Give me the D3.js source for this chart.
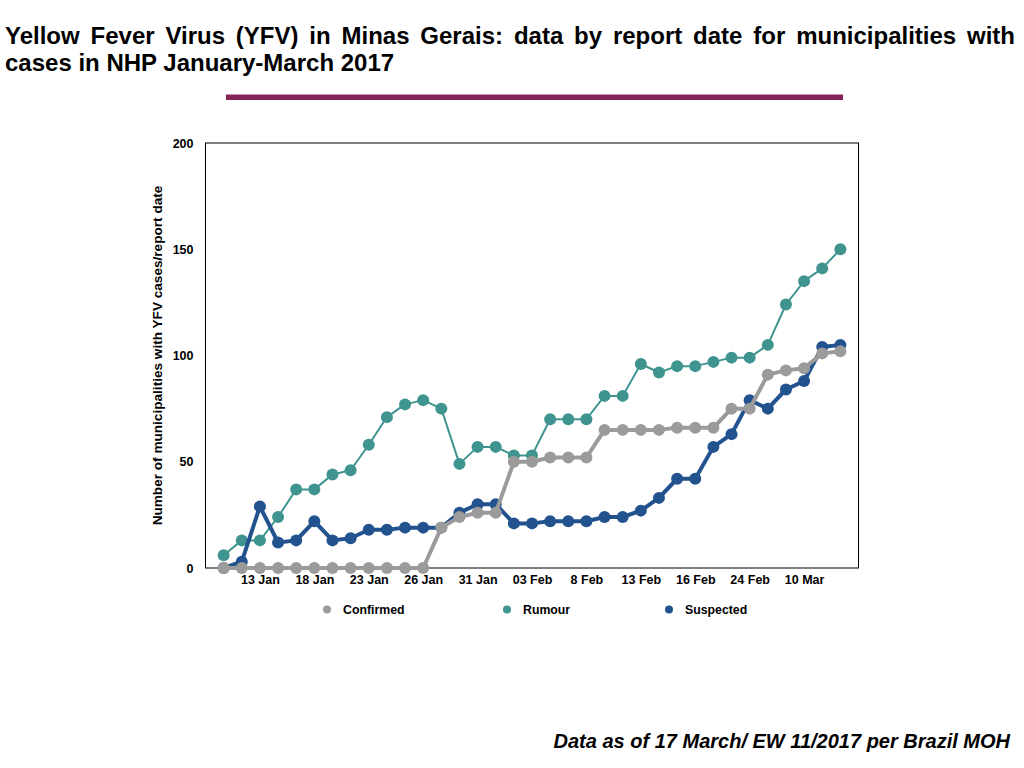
<!DOCTYPE html>
<html>
<head>
<meta charset="utf-8">
<script src="https://cdn.jsdelivr.net/npm/d3@7"></script>
<style>
  html, body { margin: 0; padding: 0; background: #fff; }
  body { width: 1024px; height: 768px; overflow: hidden; position: relative; font-family: "Liberation Sans", Arial, sans-serif; }
  .tl { position: absolute; left: 5px; width: 1010px; font-weight: bold; font-size: 24px; line-height: 28px; white-space: nowrap; color: #000; }
  #t1 { top: 22px; text-align: justify; text-align-last: justify; }
  #t2 { top: 49px; text-align: left; }
  svg { position: absolute; left: 0; top: 0; }
</style>
</head>
<body>
<svg id="chart" width="1024" height="768"></svg>
<div class="tl" id="t1">Yellow Fever Virus (YFV) in Minas Gerais: data by report date for municipalities with</div>
<div class="tl" id="t2">cases in NHP January-March 2017</div>
<script>
// Report-date categories (index) and the tick labels shown on the axis
const categories = d3.range(35);
const tickLabels = {2: "13 Jan", 5: "18 Jan", 8: "23 Jan", 11: "26 Jan", 14: "31 Jan", 17: "03 Feb", 20: "8 Feb", 23: "13 Feb", 26: "16 Feb", 29: "24 Feb", 32: "10 Mar"};
const yTicks = [0, 50, 100, 150, 200];

const confirmed = [0,0,0,0,0,0,0,0,0,0,0,0,19,24,26,26,50,50,52,52,52,65,65,65,65,66,66,66,75,75,91,93,94,101,102];
const rumour    = [6,13,13,24,37,37,44,46,58,71,77,79,75,49,57,57,53,53,70,70,70,81,81,96,92,95,95,97,99,99,105,124,135,141,150];
const suspected = [0,3,29,12,13,22,13,14,18,18,19,19,19,26,30,30,21,21,22,22,22,24,24,27,33,42,42,57,63,79,75,84,88,104,105];

const seriesNames = ["Confirmed", "Rumour", "Suspected"];
const seriesColors = ["#9b9b9b", "#3f9490", "#22538e"];

const series = [
  {name: seriesNames[0], values: confirmed, color: seriesColors[0], width: 4},
  {name: seriesNames[1], values: rumour, color: seriesColors[1], width: 2},
  {name: seriesNames[2], values: suspected, color: seriesColors[2], width: 4}
];

const FONT = "Liberation Sans, Arial, sans-serif";
const svg = d3.select("#chart");

// decorative rule under title
svg.append("rect").attr("x", 226).attr("y", 94.5).attr("width", 617).attr("height", 5.5).attr("fill", "#862457");

const L = 205.5, R = 858.5, T = 143, B = 568;
const x = d3.scalePoint().domain(categories).range([L, R]).padding(1);
const y = d3.scaleLinear().domain([0, 200]).range([B, T]);

// frame
svg.append("rect").attr("x", L).attr("y", T).attr("width", R - L).attr("height", B - T)
  .attr("fill", "none").attr("stroke", "#000").attr("stroke-width", 1);

// y axis
const yAxis = svg.append("g").attr("transform", `translate(${L},0)`)
  .call(d3.axisLeft(y).tickValues(yTicks).tickSize(0).tickPadding(12));
yAxis.select(".domain").remove();
yAxis.selectAll("text").attr("font-family", FONT)
  .attr("font-size", 12.5).attr("font-weight", "bold").attr("fill", "#000");

// x axis
const xAxis = svg.append("g").attr("transform", `translate(0,${B})`)
  .call(d3.axisBottom(x).tickValues(Object.keys(tickLabels).map(Number))
    .tickFormat(d => tickLabels[d]).tickSize(0).tickPadding(7));
xAxis.select(".domain").remove();
xAxis.selectAll("text").attr("font-family", FONT)
  .attr("font-size", 12.5).attr("font-weight", "bold").attr("fill", "#000");

// y title
svg.append("text").attr("transform", `translate(162,${(T + B) / 2}) rotate(-90)`)
  .attr("text-anchor", "middle").attr("font-family", FONT)
  .attr("font-size", 13.6).attr("font-weight", "bold").attr("fill", "#000")
  .text("Number of municipalities with YFV cases/report date");

// series
const drawOrder = [1, 2, 0];
const line = d3.line().x((d, i) => x(categories[i])).y(d => y(d));
drawOrder.forEach(k => {
  const s = series[k];
  const g = svg.append("g");
  g.append("path").datum(s.values).attr("d", line).attr("fill", "none")
    .attr("stroke", s.color).attr("stroke-width", s.width).attr("stroke-linejoin", "round");
  g.selectAll("circle").data(s.values).join("circle")
    .attr("cx", (d, i) => x(categories[i])).attr("cy", d => y(d)).attr("r", 6)
    .attr("fill", s.color);
});

// legend
const legendX = [327, 507, 669];
const legend = svg.append("g");
series.forEach((s, i) => {
  legend.append("circle").attr("cx", legendX[i]).attr("cy", 609.5).attr("r", 4).attr("fill", s.color);
  legend.append("text").attr("x", legendX[i] + 16).attr("y", 614)
    .attr("font-family", FONT).attr("font-size", 12.3)
    .attr("font-weight", "bold").attr("fill", "#000").text(s.name);
});

// footer
svg.append("text").attr("x", 1010).attr("y", 748).attr("text-anchor", "end")
  .attr("font-family", FONT).attr("font-size", 20)
  .attr("font-weight", "bold").attr("font-style", "italic").attr("fill", "#000")
  .text("Data as of 17 March/ EW 11/2017 per Brazil MOH");
</script>
</body>
</html>
